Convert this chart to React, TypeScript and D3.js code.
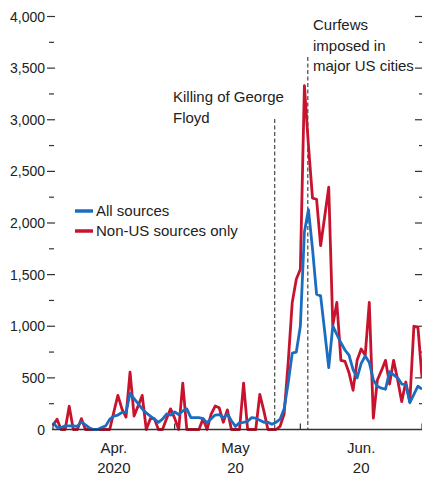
import { useEffect, useRef } from "react";
import * as d3 from "d3";

// daily values, 1 Apr 2020 .. 1 Jul 2020
const startDay = new Date(2020, 3, 1);
const endDay = new Date(2020, 6, 1);

const allSources = [
  70, 20, 20, 35, 35, 35, 30, 75, 45, 15,
  0, 0, 20, 35, 100, 130, 140, 165, 165, 350,
  300, 250, 200, 160, 130, 100, 70, 100, 150, 140,
  170, 145, 180, 200, 115, 115, 115, 105, 65, 105,
  140, 145, 113, 150, 85, 30, 65, 70, 80, 115,
  110, 90, 70, 70, 50, 70, 100, 200, 450, 740,
  750, 1000, 1913, 2130, 1750, 1311, 1294, 950, 600, 1003,
  920, 840, 770, 720, 580, 500, 640, 712, 650, 480,
  420, 400, 390, 560, 530, 500, 440, 437, 259, 340,
  420, 390,
];

const nonUsOnly = [
  40, 100, 0, 0, 225, 0, 0, 105, 0, 0,
  0, 0, 0, 0, 0, 170, 330, 200, 120, 555,
  130, 230, 330, 0, 105, 105, 0, 0, 105, 200,
  110, 0, 450, 0, 0, 0, 0, 105, 0, 150,
  227, 210, 70, 190, 0, 0, 0, 450, 0, 0,
  0, 340, 180, 0, 0, 0, 30, 150, 650, 1230,
  1456, 1553, 3330, 2750, 2240, 2230, 1780, 2060, 2347, 1010,
  1230, 670, 660, 550, 380, 670, 780, 720, 1230, 110,
  480, 570, 670, 440, 670, 480, 270, 460, 270, 1000,
  990, 500,
];

const seriesNames = ["All sources", "Non-US sources only"];
const seriesColors = ["#1b6dbf", "#c8132f"];

const yMajorTicks = [0, 500, 1000, 1500, 2000, 2500, 3000, 3500, 4000];
const yMinorTicks = [250, 750, 1250, 1750, 2250, 2750, 3250, 3750];

const monthTicks = [new Date(2020, 3, 1), new Date(2020, 4, 1), new Date(2020, 5, 1), new Date(2020, 6, 1)];
const monthLabels = [
  { date: new Date(2020, 3, 16), lines: ["Apr.", "2020"] },
  { date: new Date(2020, 4, 16), lines: ["May", "20"] },
  { date: new Date(2020, 5, 16), lines: ["Jun.", "20"] },
];

const events = [
  { date: new Date(2020, 4, 25, 16), lines: ["Killing of George", "Floyd"] },
  { date: new Date(2020, 5, 2, 20), lines: ["Curfews", "imposed in", "major US cities"] },
];

const FONT = "'Liberation Sans', Arial, sans-serif";

export default function App() {
  const svgRef = useRef<SVGSVGElement>(null);

  useEffect(() => {
    if (!svgRef.current) return;
    const svg = d3.select(svgRef.current);
    svg.selectAll("*").remove();

    const x = d3.scaleTime().domain([startDay, endDay]).range([53, 422]);
    const y = d3.scaleLinear().domain([0, 4000]).range([429.5, 16.5]);
    const dayOf = (i: number) => d3.timeDay.offset(startDay, i);

    // left axis: labels + ticks, no spine
    const gy = svg.append("g");
    gy.selectAll("line.major")
      .data(yMajorTicks.filter(d => d > 0))
      .enter()
      .append("line")
      .attr("x1", 47).attr("x2", 55)
      .attr("y1", d => y(d)).attr("y2", d => y(d))
      .attr("stroke", "#333").attr("stroke-width", 1.2);
    gy.selectAll("line.minor")
      .data(yMinorTicks)
      .enter()
      .append("line")
      .attr("x1", 49).attr("x2", 54)
      .attr("y1", d => y(d)).attr("y2", d => y(d))
      .attr("stroke", "#333").attr("stroke-width", 1.2);
    gy.selectAll("text")
      .data(yMajorTicks)
      .enter()
      .append("text")
      .attr("x", 45)
      .attr("y", d => y(d))
      .attr("dy", "0.36em")
      .attr("text-anchor", "end")
      .attr("font-family", FONT)
      .attr("font-size", 14)
      .attr("fill", "#222")
      .text(d => d3.format(",")(d));

    // right mirrored ticks
    const gr = svg.append("g");
    gr.selectAll("line.major")
      .data(yMajorTicks.filter(d => d > 0))
      .enter()
      .append("line")
      .attr("x1", 415).attr("x2", 422)
      .attr("y1", d => y(d)).attr("y2", d => y(d))
      .attr("stroke", "#333").attr("stroke-width", 1.2);
    gr.selectAll("line.minor")
      .data(yMinorTicks)
      .enter()
      .append("line")
      .attr("x1", 419).attr("x2", 422)
      .attr("y1", d => y(d)).attr("y2", d => y(d))
      .attr("stroke", "#333").attr("stroke-width", 1.2);

    // event markers
    const tops = [119, 57];
    const textX = [173, 313];
    const textY = [102, 30];
    events.forEach((ev, i) => {
      svg.append("line")
        .attr("x1", x(ev.date)).attr("x2", x(ev.date))
        .attr("y1", tops[i]).attr("y2", y(0))
        .attr("stroke", "#555")
        .attr("stroke-width", 1.3)
        .attr("stroke-dasharray", "4,2.5");
      const t = svg.append("text")
        .attr("font-family", FONT)
        .attr("font-size", 15)
        .attr("fill", "#222");
      ev.lines.forEach((ln, j) => {
        t.append("tspan")
          .attr("x", textX[i])
          .attr("y", textY[i] + j * 20.5)
          .text(ln);
      });
    });

    // series lines
    const line = d3.line<number>()
      .x((_, i) => x(dayOf(i)))
      .y(d => y(d));
    [nonUsOnly, allSources].forEach((vals, idx) => {
      svg.append("path")
        .datum(vals)
        .attr("fill", "none")
        .attr("stroke", idx === 0 ? seriesColors[1] : seriesColors[0])
        .attr("stroke-width", 2.8)
        .attr("stroke-linejoin", "round")
        .attr("d", line);
    });

    // x axis
    svg.append("line")
      .attr("x1", 52).attr("x2", 422)
      .attr("y1", y(0)).attr("y2", y(0))
      .attr("stroke", "#333").attr("stroke-width", 1.3);
    svg.selectAll("line.mtick")
      .data(monthTicks)
      .enter()
      .append("line")
      .attr("x1", d => x(d)).attr("x2", d => x(d))
      .attr("y1", y(0) - 6).attr("y2", y(0))
      .attr("stroke", "#333").attr("stroke-width", 1.2);
    monthLabels.forEach(m => {
      const t = svg.append("text")
        .attr("font-family", FONT)
        .attr("font-size", 15)
        .attr("fill", "#222")
        .attr("text-anchor", "middle");
      m.lines.forEach((ln, j) => {
        t.append("tspan")
          .attr("x", x(m.date))
          .attr("y", 453 + j * 20)
          .text(ln);
      });
    });

    // legend
    const lg = svg.append("g");
    seriesNames.forEach((name, i) => {
      const ly = 211 + i * 20;
      lg.append("line")
        .attr("x1", 75).attr("x2", 93)
        .attr("y1", ly).attr("y2", ly)
        .attr("stroke", seriesColors[i])
        .attr("stroke-width", 3.5);
      lg.append("text")
        .attr("x", 96)
        .attr("y", ly)
        .attr("dy", "0.36em")
        .attr("font-family", FONT)
        .attr("font-size", 15)
        .attr("fill", "#222")
        .text(name);
    });
  }, []);

  return (
    <svg
      ref={svgRef}
      width={422}
      height={477}
      style={{ position: "absolute", left: 0, top: 0, background: "#fff" }}
    />
  );
}
